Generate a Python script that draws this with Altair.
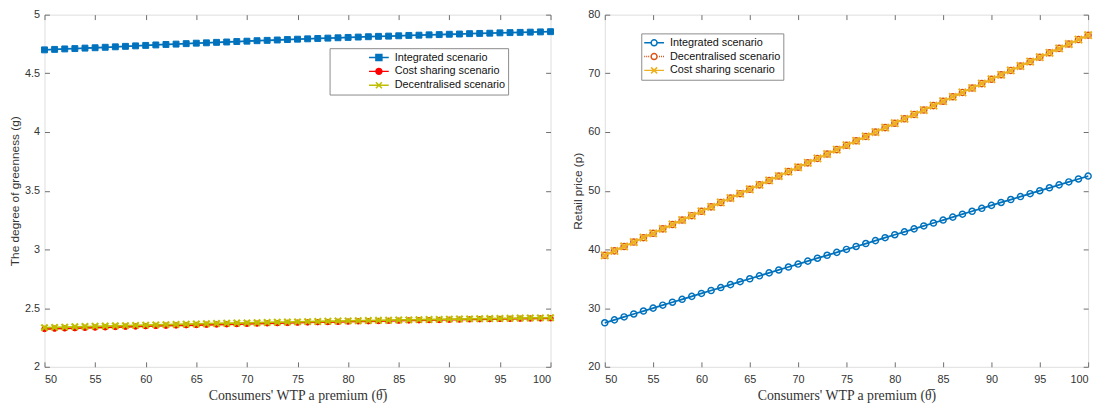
import altair as alt
import pandas as pd

# ---------------- data ----------------
theta = list(range(50, 101))
x_ticks = [50, 55, 60, 65, 70, 75, 80, 85, 90, 95, 100]
g_ticks = [2, 2.5, 3, 3.5, 4, 4.5, 5]
p_ticks = [20, 30, 40, 50, 60, 70, 80]

g_names = ["Integrated scenario", "Cost sharing scenario", "Decentralised scenario"]
g_int = [4.700, 4.704, 4.708, 4.711, 4.715, 4.718, 4.722, 4.726, 4.730, 4.734,
         4.738, 4.742, 4.746, 4.749, 4.753, 4.757, 4.760, 4.764, 4.767, 4.771,
         4.774, 4.778, 4.781, 4.784, 4.788, 4.791, 4.794, 4.797, 4.800, 4.803,
         4.806, 4.809, 4.812, 4.815, 4.817, 4.820, 4.823, 4.825, 4.828, 4.830,
         4.833, 4.835, 4.838, 4.840, 4.842, 4.845, 4.847, 4.849, 4.851, 4.853,
         4.855]
g_cost = [2.322, 2.325, 2.327, 2.329, 2.332, 2.334, 2.336, 2.339, 2.341, 2.343,
          2.346, 2.348, 2.350, 2.352, 2.354, 2.356, 2.358, 2.360, 2.362, 2.364,
          2.366, 2.368, 2.370, 2.372, 2.374, 2.376, 2.378, 2.380, 2.381, 2.383,
          2.385, 2.387, 2.388, 2.390, 2.392, 2.393, 2.395, 2.396, 2.398, 2.399,
          2.401, 2.402, 2.404, 2.405, 2.406, 2.408, 2.409, 2.410, 2.411, 2.412,
          2.413]
g_dec = [2.334, 2.336, 2.338, 2.341, 2.343, 2.345, 2.347, 2.349, 2.351, 2.353,
         2.355, 2.357, 2.359, 2.361, 2.363, 2.365, 2.367, 2.369, 2.371, 2.373,
         2.374, 2.376, 2.378, 2.380, 2.381, 2.383, 2.385, 2.386, 2.388, 2.390,
         2.391, 2.393, 2.394, 2.396, 2.397, 2.399, 2.400, 2.402, 2.403, 2.404,
         2.406, 2.407, 2.408, 2.410, 2.411, 2.412, 2.413, 2.415, 2.416, 2.417,
         2.418]

p_names = ["Integrated scenario", "Decentralised scenario", "Cost sharing scenario"]
p_int = [27.5, 28.0, 28.5, 29.0, 29.5, 30.0, 30.5, 31.0, 31.5, 32.0,
         32.5, 33.0, 33.5, 34.0, 34.5, 35.0, 35.5, 36.0, 36.5, 37.0,
         37.5, 38.0, 38.5, 39.0, 39.5, 40.0, 40.5, 41.0, 41.5, 42.0,
         42.5, 43.0, 43.5, 44.0, 44.5, 45.0, 45.5, 46.0, 46.5, 47.0,
         47.5, 48.0, 48.5, 49.0, 49.5, 50.0, 50.5, 51.0, 51.5, 52.0,
         52.5]
p_dec = [39.0, 39.75, 40.5, 41.25, 42.0, 42.75, 43.5, 44.25, 45.0, 45.75,
         46.5, 47.25, 48.0, 48.75, 49.5, 50.25, 51.0, 51.75, 52.5, 53.25,
         54.0, 54.75, 55.5, 56.25, 57.0, 57.75, 58.5, 59.25, 60.0, 60.75,
         61.5, 62.25, 63.0, 63.75, 64.5, 65.25, 66.0, 66.75, 67.5, 68.25,
         69.0, 69.75, 70.5, 71.25, 72.0, 72.75, 73.5, 74.25, 75.0, 75.75,
         76.5]
p_cost = [39.0, 39.75, 40.5, 41.25, 42.0, 42.75, 43.5, 44.25, 45.0, 45.75,
          46.5, 47.25, 48.0, 48.75, 49.5, 50.25, 51.0, 51.75, 52.5, 53.25,
          54.0, 54.75, 55.5, 56.25, 57.0, 57.75, 58.5, 59.25, 60.0, 60.75,
          61.5, 62.25, 63.0, 63.75, 64.5, 65.25, 66.0, 66.75, 67.5, 68.25,
          69.0, 69.75, 70.5, 71.25, 72.0, 72.75, 73.5, 74.25, 75.0, 75.75,
          76.5]


def long_df(names, series, key):
    rows = []
    for n, vals in zip(names, series):
        for t, v in zip(theta, vals):
            rows.append({"x": t, "value": v, key: n})
    return pd.DataFrame(rows)


g_df = long_df(g_names, [g_int, g_cost, g_dec], "gseries")
p_df = long_df(p_names, [p_int, p_dec, p_cost], "pseries")

# ---------------- styles ----------------
SANS = "Liberation Sans"
SERIF = "'Liberation Serif', 'DejaVu Serif', serif"
TXT = "#333333"
FRAME = "#6e6e6e"
X_TITLE = "Consumers' WTP a premium (\u03b8\u0305)"

P_X = "M-1,-1L1,1M-1,1L1,-1"

# legend symbol paths (line + marker), unit = sqrt(symbolSize)/2 px
LG_SQ = "M-1.82,0L1.82,0M-0.55,-0.55L0.55,-0.55L0.55,0.55L-0.55,0.55Z"
LG_CIRC = "M-1.82,0L1.82,0M-0.55,0A0.55,0.55,0,1,0,0.55,0A0.55,0.55,0,1,0,-0.55,0Z"
LG_CIRC_H = "M-1.82,0L-0.55,0M0.55,0L1.82,0M-0.55,0A0.55,0.55,0,1,0,0.55,0A0.55,0.55,0,1,0,-0.55,0Z"
LG_X = "M-1.82,0L1.82,0M-0.55,-0.55L0.55,0.55M-0.55,0.55L0.55,-0.55"
LG_DOT_CIRC = ("M-1.82,0L-1.64,0M-1.45,0L-1.27,0M-1.09,0L-0.91,0"
               "M0.91,0L1.09,0M1.27,0L1.45,0M1.64,0L1.82,0"
               "M-0.55,0A0.55,0.55,0,1,0,0.55,0A0.55,0.55,0,1,0,-0.55,0Z")


def x_enc(axis):
    return alt.X("x:Q", scale=alt.Scale(domain=[50, 100], nice=False, zero=False), axis=axis)


def y_enc(domain, axis):
    return alt.Y("value:Q", scale=alt.Scale(domain=domain, nice=False, zero=False), axis=axis)


def bottom_axis():
    return alt.Axis(values=x_ticks, orient="bottom", offset=-5, tickSize=5, labelPadding=7,
                    domain=False, grid=False, tickColor=FRAME, labelColor=TXT,
                    labelFont=SANS, labelFontSize=11, title=X_TITLE, titleFont=SERIF,
                    titleFontSize=14, titleFontWeight="normal", titleColor=TXT, titlePadding=4)


def left_axis(values, title):
    return alt.Axis(values=values, orient="left", offset=-5, tickSize=5, labelPadding=5,
                    format="~r", domain=False, grid=False, tickColor=FRAME, labelColor=TXT,
                    labelFont=SANS, labelFontSize=11, title=title, titleFont=SANS,
                    titleFontSize=12, titleFontWeight="normal", titleColor=TXT, titlePadding=3)


def top_axis():
    return alt.Axis(values=x_ticks, orient="top", offset=-5, tickSize=5, labels=False,
                    domain=False, grid=False, tickColor=FRAME, title="")


def right_axis(values):
    return alt.Axis(values=values, orient="right", offset=-5, tickSize=5, labels=False,
                    domain=False, grid=False, tickColor=FRAME, title="")


def panel(df, key, names, colors, line_dash, markers, y_domain, y_ticks, y_title,
          lg_paths, lg_fills, lg_x, lg_y, sym_off, lab_off, pad_right, w, h):
    layers = []
    for i, name in enumerate(names):
        base = alt.Chart(df).transform_filter(alt.datum[key] == name)
        lkw = dict(color=colors[i], strokeWidth=1.8)
        if line_dash[i]:
            lkw["strokeDash"] = line_dash[i]
        if i == 0:
            lx, ly = bottom_axis(), left_axis(y_ticks, y_title)
            px, py = top_axis(), right_axis(y_ticks)
        else:
            lx = ly = px = py = None
        layers.append(base.mark_line(**lkw).encode(x=x_enc(lx), y=y_enc(y_domain, ly)))
        m = markers[i]
        layers.append(base.mark_point(opacity=1, **m).encode(x=x_enc(px), y=y_enc(y_domain, py)))

    lab_expr = "datum.label + '" + "\u00a0" * pad_right + "'"
    leg = alt.Legend(orient="none", legendX=lg_x, legendY=lg_y, direction="vertical",
                     title=None, symbolSize=121, symbolStrokeWidth=1.5, symbolOpacity=1,
                     symbolOffset=sym_off, labelOffset=lab_off, labelFont=SANS,
                     labelFontSize=11, labelColor="#111111", labelLimit=400,
                     labelExpr=lab_expr, padding=3, rowPadding=1,
                     strokeColor="#8a8a8a", fillColor="white")
    field = key + ":N"
    legend_layer = alt.Chart(df).mark_point(opacity=0, filled=True).encode(
        x=x_enc(None), y=y_enc(y_domain, None),
        shape=alt.Shape(field, scale=alt.Scale(domain=names, range=lg_paths), legend=leg),
        stroke=alt.Stroke(field, scale=alt.Scale(domain=names, range=colors), legend=leg),
        fill=alt.Fill(field, scale=alt.Scale(domain=names, range=lg_fills), legend=leg),
    )
    layers.append(legend_layer)
    return alt.layer(*layers).resolve_axis(x="independent", y="independent").properties(
        width=w, height=h)


BLUE = "#0072BD"
left = panel(
    g_df, "gseries", g_names, [BLUE, "#FF0000", "#BFBF00"], [None, None, None],
    [dict(shape="square", size=36, filled=True, fill=BLUE, stroke=BLUE, strokeWidth=1),
     dict(shape="circle", size=30, filled=True, fill="#FF0000", stroke="#FF0000", strokeWidth=1),
     dict(shape=P_X, size=42, filled=False, stroke="#BFBF00", strokeWidth=2.2)],
    [2, 5], g_ticks, "The degree of greenness (g)",
    [LG_SQ, LG_CIRC, LG_X], [BLUE, "#FF0000", "#BFBF00"],
    289, 34, 40.5, 9.5, 12, 513, 357)

right = panel(
    p_df, "pseries", p_names, [BLUE, "#D95319", "#EDB120"], [None, [1.5, 2.5], None],
    [dict(shape="circle", size=38, filled=False, stroke=BLUE, strokeWidth=1.5),
     dict(shape="circle", size=38, filled=False, stroke="#D95319", strokeWidth=1.5),
     dict(shape=P_X, size=56, filled=False, stroke="#EDB120", strokeWidth=2)],
    [20, 80], p_ticks, "Retail price (p)",
    [LG_CIRC_H, LG_DOT_CIRC, LG_X], ["transparent", "transparent", "#EDB120"],
    37, 19, 3.5, 9.5, 0, 490, 357)

chart = alt.hconcat(left, right, spacing=12).resolve_scale(
    shape="independent", stroke="independent", fill="independent"
).resolve_legend(shape="independent", stroke="independent", fill="independent").properties(
    padding={"top": -3, "left": 0, "right": 0, "bottom": 0}
).configure_view(stroke=FRAME, strokeWidth=1).configure(background="white")

chart.save("out.html", embed_options={"renderer": "svg", "actions": False})
